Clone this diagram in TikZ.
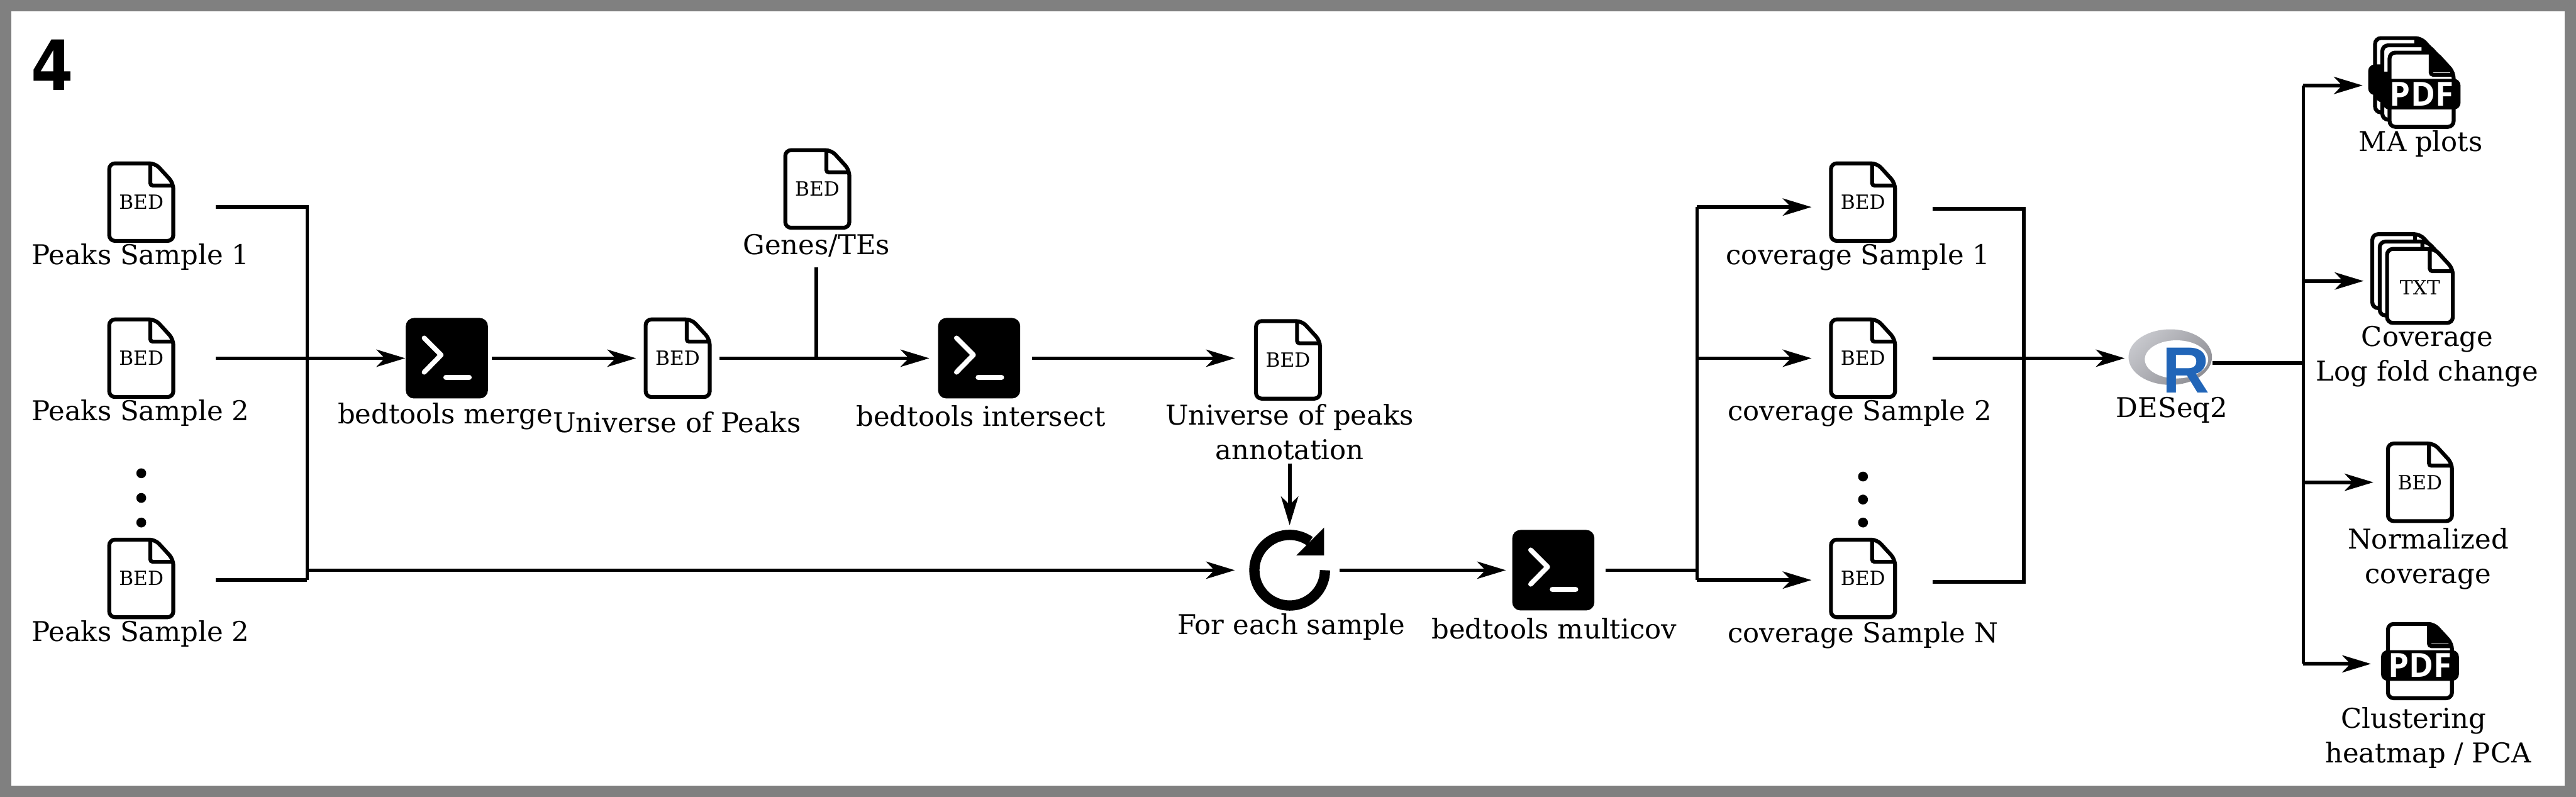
\documentclass[tikz,border=0pt]{standalone}
\usepackage{fontspec}
\setmainfont{DejaVu Serif}
\newfontfamily\panelfont{DejaVu Sans}
\newfontfamily\logofont{Liberation Sans}
\newfontfamily\pdffont{Open Sans}
\usetikzlibrary{arrows.meta, shapes.geometric}

\definecolor{framegray}{HTML}{808080}
\definecolor{ringlight}{HTML}{C6C7CC}
\definecolor{ringdark}{HTML}{8F8F95}
\definecolor{rblue}{HTML}{2165B8}

% one sheet of paper: x, y, half width, half height
\newcommand{\docpage}[4]{
    \draw[line width=1.35pt, fill=white, rounded corners=0.07cm] (#1-#3,#2+#4) -- (#1+#3-11,#2+#4) -- (#1+#3,#2+#4-12) -- (#1+#3,#2-#4) -- (#1-#3,#2-#4) -- cycle;
    \draw[line width=1.35pt, rounded corners=0.03cm] (#1+#3-14,#2+#4) -- (#1+#3-14,#2+#4-13.5) -- (#1+#3,#2+#4-13.5);
}
% sheet with the black band, x and y are the middle of the band
\newcommand{\bandpage}[2]{
    \docpage{#1}{#2+2.7}{19.5}{22.6}
    \fill (#1+5.5,#2+25.3) -- (#1+8.5,#2+25.3) -- (#1+19.5,#2+13.3) -- (#1+5.5,#2+13.3) -- cycle;
    \fill[rounded corners=0.08cm] (#1-23.7,#2-9.3) rectangle (#1+23.7,#2+9.3);
}

\tikzset{
    lab/.style={align=center, inner sep=1pt, font=\fontsize{9.45}{11.9}\selectfont},
    iconlab/.style={inner sep=0pt, font=\fontsize{6.8}{8}\selectfont},
    pdflab/.style={inner sep=0pt, text=white, font=\pdffont\bfseries\fontsize{11.5}{12}\selectfont},
    link/.style={line width=1.25pt},
    filebox/.style={minimum width=50*0.02cm, minimum height=54*0.02cm, inner sep=0pt, label={[iconlab]center:#1},
        path picture={
            \begin{scope}[shift={(path picture bounding box.center)}]
                \docpage{0}{0}{19.5}{23.6}
            \end{scope}
        }},
    stackbox/.style={minimum width=68*0.02cm, minimum height=72*0.02cm, inner sep=0pt, label={[iconlab]center:#1},
        path picture={
            \begin{scope}[shift={(path picture bounding box.center)}]
                \docpage{-9}{10}{20}{22.5}
                \docpage{-4.5}{5.5}{20}{22.5}
                \docpage{0}{1}{20}{22.5}
            \end{scope}
        }},
    pdfbox/.style={minimum width=54*0.02cm, minimum height=56*0.02cm, inner sep=0pt, label={[pdflab]center:#1},
        path picture={
            \begin{scope}[shift={(path picture bounding box.center)}]
                \bandpage{0}{0}
            \end{scope}
        }},
    pdfstackbox/.style={minimum width=68*0.02cm, minimum height=74*0.02cm, inner sep=0pt, label={[pdflab]center:#1},
        path picture={
            \begin{scope}[shift={(path picture bounding box.center)}]
                \bandpage{-8.8}{8.8}
                \bandpage{-4.4}{4.4}
                \bandpage{0}{0}
            \end{scope}
        }},
    termbox/.style={fill=black, rounded corners=0.1cm, minimum width=50*0.02cm, minimum height=49*0.02cm, inner sep=0pt,
        path picture={
            \begin{scope}[shift={(path picture bounding box.center)}]
                \draw[white, line width=1.7pt, line cap=round, line join=round, sharp corners] (-13.8,12.3) -- (-3.5,2) -- (-13.8,-8.5);
                \draw[white, line width=1.9pt, line cap=round, sharp corners] (-0.5,-11.7) -- (13.5,-11.7);
            \end{scope}
        }},
    loopbox/.style={minimum width=50*0.02cm, minimum height=54*0.02cm, inner sep=0pt,
        path picture={
            \begin{scope}[shift={(path picture bounding box.center)}]
                \draw[line width=0.125cm] (21.5,0) arc[start angle=0, end angle=-305, radius=0.43cm];
                \fill (21,26) -- (21,9) -- (4,9) -- cycle;
            \end{scope}
        }},
    dotmark/.style={circle, fill=black, minimum size=0.12cm, inner sep=0pt}
}

\begin{document}
\begin{tikzpicture}[x=0.02cm, y=0.02cm, >={Stealth[length=0.35cm, width=0.21cm, inset=0.1cm]}]
    % --- Frame ---
    \fill[framegray] (0,0) rectangle (1568,485);
    \fill[white] (7,7) rectangle (1561,478);
    \node[font=\panelfont\bfseries\fontsize{24}{24}\selectfont, inner sep=0pt, xscale=0.88] (panel) at (32,445.5) {4};

    % --- Nodes ---

    % 1. Peak files (Left)
    \node[filebox=BED] (peakone) at (86,362) {};
    \node[lab] (peakonelab) at (85.5,328.5) {Peaks Sample 1};
    \node[filebox=BED] (peaktwo) at (86,267) {};
    \node[lab] (peaktwolab) at (85.5,233.5) {Peaks Sample 2};
    \node[dotmark] (peakdota) at (86,197) {};
    \node[dotmark] (peakdotb) at (86,182) {};
    \node[dotmark] (peakdotc) at (86,167) {};
    \node[filebox=BED] (peakn) at (86,133) {};
    \node[lab] (peaknlab) at (85.5,99.5) {Peaks Sample 2};

    % 2. Merge and intersect (Upper row)
    \node[termbox] (merge) at (272,267) {};
    \node[lab] (mergelab) at (271,231.5) {bedtools merge};
    \node[filebox=BED] (universe) at (412.5,267) {};
    \node[lab] (universelab) at (412,228) {Universe of Peaks};
    \node[filebox=BED] (genes) at (497.5,370) {};
    \node[lab] (geneslab) at (497,335.5) {Genes/TEs};
    \node[termbox] (intersect) at (596,267) {};
    \node[lab] (intersectlab) at (597,232) {bedtools intersect};
    \node[filebox=BED] (annot) at (784,266) {};
    \node[lab] (annotlab) at (785,222) {Universe of peaks\\annotation};

    % 3. Loop and multicov (Lower row)
    \node[loopbox] (loop) at (785,138) {};
    \node[lab] (looplab) at (786,103.5) {For each sample};
    \node[termbox] (multicov) at (945.5,138) {};
    \node[lab] (multicovlab) at (946,102.5) {bedtools multicov};

    % 4. Coverage files
    \node[filebox=BED] (covone) at (1134,362) {};
    \node[lab] (covonelab) at (1131,328.5) {coverage Sample 1};
    \node[filebox=BED] (covtwo) at (1134,267) {};
    \node[lab] (covtwolab) at (1132,233.5) {coverage Sample 2};
    \node[dotmark] (covdota) at (1134,195) {};
    \node[dotmark] (covdotb) at (1134,181) {};
    \node[dotmark] (covdotc) at (1134,167) {};
    \node[filebox=BED] (covn) at (1134,133) {};
    \node[lab] (covnlab) at (1134,98.5) {coverage Sample N};

    % 5. DESeq2
    \node[ellipse, minimum width=50.8*0.02cm, minimum height=33.8*0.02cm, inner sep=0pt, top color=ringlight, bottom color=ringdark, shading angle=45,
        path picture={\fill[white] ([shift={(3.8,-1.4)}]path picture bounding box.center) ellipse[x radius=0.386cm, y radius=0.232cm];}] (deseq) at (1321,267.7) {};
    \node[inner sep=0pt, text=rblue, font=\logofont\bfseries\fontsize{22.6}{24}\selectfont] (rletter) at (1330.5,259.7) {R};
    \node[lab] (deseqlab) at (1322,235.5) {DESeq2};

    % 6. Results (Right)
    \node[pdfstackbox=PDF] (maplots) at (1474,427.7) {};
    \node[lab] (maplotslab) at (1473.5,397.5) {MA plots};
    \node[stackbox=TXT] (lfc) at (1473,310) {};
    \node[lab] (lfclab) at (1477.5,268) {Coverage\\Log fold change};
    \node[filebox=BED] (normcov) at (1473,191.5) {};
    \node[lab] (normcovlab) at (1478,145) {Normalized\\coverage};
    \node[pdfbox=PDF] (heatmap) at (1473,80) {};
    \node[lab] (heatmaplab) at (1478,36) {Clustering\kern0.36cm\\heatmap / PCA};

    % --- Branch points ---
    \coordinate (peaktop) at (187,359);
    \coordinate (peakbot) at (187,132);
    \coordinate (peaklow) at (187,138);
    \coordinate (genesjoin) at (497,267);
    \coordinate (covin) at (1033,138);
    \coordinate (covtop) at (1033,359);
    \coordinate (covmid) at (1033,267);
    \coordinate (covbot) at (1033,132);
    \coordinate (outtop) at (1232,358);
    \coordinate (outbot) at (1232,131);
    \coordinate (resmid) at (1402,264);
    \coordinate (resa) at (1402,433);
    \coordinate (resb) at (1402,314);
    \coordinate (resc) at (1402,191.5);
    \coordinate (resd) at (1402,81);

    % --- Arrows ---

    % Peaks into merge
    \draw[link, shorten <=0.4cm] (peakone.east |- peaktop) -- (peaktop) -- (peakbot);
    \draw[link, shorten <=0.4cm] (peakn.east |- peakbot) -- (peakbot);
    \draw[->, link, shorten <=0.4cm] (peaktwo.east) -- (merge.west);
    \draw[->, link, shorten >=0.16cm] (peaklow) -- (peaklow -| loop.west);

    % Upper row
    \draw[->, link, shorten <=0.04cm] (merge.east) -- (universe.west);
    \draw[->, link, shorten >=0.1cm] (universe.east) -- (intersect.west);
    \draw[link, shorten <=0.08cm] (geneslab.south) -- (genesjoin);
    \draw[->, link, shorten <=0.14cm, shorten >=0.14cm] (intersect.east) -- (intersect.east -| annot.west);
    \draw[->, link] (annotlab.south) -- (loop.north);

    % Lower row
    \draw[->, link, shorten <=0.1cm, shorten >=0.07cm] (loop.east) -- (multicov.west);
    \draw[link, shorten <=0.13cm] (multicov.east) -- (covin);
    \draw[link] (covtop) -- (covbot);
    \draw[->, link, shorten >=0.12cm] (covtop) -- (covone.west |- covtop);
    \draw[->, link, shorten >=0.12cm] (covmid) -- (covtwo.west);
    \draw[->, link, shorten >=0.12cm] (covbot) -- (covn.west |- covbot);

    % Coverage into DESeq2
    \draw[link, shorten <=0.34cm, shorten >=0.34cm] (covone.east |- outtop) -- (outtop) -- (outbot) -- (covn.east |- outbot);
    \draw[->, link, shorten <=0.34cm, shorten >=0.04cm] (covtwo.east) -- (covtwo.east -| deseq.west);

    % DESeq2 to results
    \draw[link] (deseq.east |- resmid) -- (resmid);
    \draw[link] (resa) -- (resd);
    \draw[->, link, shorten >=0.03cm] (resa) -- (resa -| maplots.west);
    \draw[->, link] (resb) -- (resb -| lfc.west);
    \draw[->, link, shorten >=0.06cm] (resc) -- (normcov.west);
    \draw[->, link, shorten >=0.05cm] (resd) -- (resd -| heatmap.west);

\end{tikzpicture}
\end{document}
